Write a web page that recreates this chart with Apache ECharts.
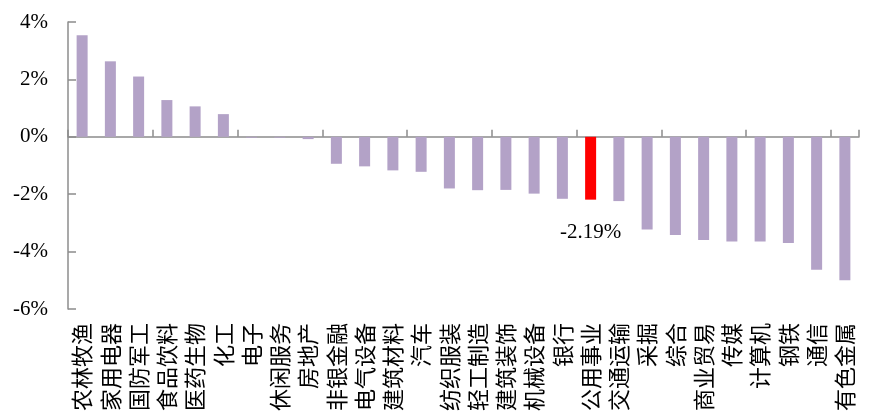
<!DOCTYPE html>
<html>
<head>
<meta charset="utf-8">
<script src="https://cdn.jsdelivr.net/npm/echarts@6/dist/echarts.min.js"></script>
<style>
  html, body { margin: 0; padding: 0; background: #fff; }
  #chart { width: 872px; height: 417px; }
</style>
</head>
<body>
<div id="chart"></div>
<script>
// 申万一级行业涨跌幅（%）
const industries = ['农林牧渔','家用电器','国防军工','食品饮料','医药生物','化工','电子','休闲服务','房地产','非银金融','电气设备','建筑材料','汽车','纺织服装','轻工制造','建筑装饰','机械设备','银行','公用事业','交通运输','采掘','综合','商业贸易','传媒','计算机','钢铁','通信','有色金属'];
const changes = [3.54, 2.63, 2.10, 1.28, 1.06, 0.79, -0.03, -0.03, -0.08, -0.94, -1.03, -1.17, -1.22, -1.80, -1.86, -1.85, -1.98, -2.16, -2.19, -2.24, -3.23, -3.42, -3.60, -3.65, -3.65, -3.70, -4.63, -5.00];
const highlighted = '公用事业';
const yTicks = { min: -6, max: 4, step: 2 };

const purple = '#b3a2c7';
const red = '#ff0000';
const axisGray = '#8c8c8c';
const numFont = '"Liberation Serif", "Times New Roman", serif';
const cjkFont = '"Noto Sans CJK SC", sans-serif';

const barData = changes.map((v, i) => {
  if (industries[i] === highlighted) {
    return {
      value: v,
      itemStyle: { color: red },
      label: {
        show: true,
        position: 'bottom',
        distance: 22,
        formatter: p => p.value.toFixed(2) + '%',
        fontFamily: numFont,
        fontSize: 21,
        color: '#000'
      }
    };
  }
  return v;
});

const chart = echarts.init(document.getElementById('chart'), null, { renderer: 'canvas' });
chart.setOption({
  animation: false,
  backgroundColor: '#fff',
  grid: { left: 68, right: 13, top: 22, bottom: 108, containLabel: false },
  xAxis: [
    {
      type: 'category',
      data: industries,
      position: 'bottom',
      axisLine: { onZero: true, lineStyle: { color: axisGray, width: 1.5 } },
      axisTick: { show: true, inside: true, length: 7, lineStyle: { color: axisGray, width: 1.5 } },
      axisLabel: { show: false },
      splitLine: { show: false }
    },
    {
      type: 'category',
      data: industries,
      position: 'bottom',
      axisLine: { show: false, onZero: false },
      axisTick: { show: false },
      axisLabel: {
        show: true,
        interval: 0,
        rotate: 90,
        margin: 14,
        fontFamily: cjkFont,
        fontSize: 22,
        color: '#000'
      },
      splitLine: { show: false }
    }
  ],
  yAxis: {
    type: 'value',
    min: yTicks.min,
    max: yTicks.max,
    interval: yTicks.step,
    axisLine: { show: true, lineStyle: { color: axisGray, width: 1.5 } },
    axisTick: { show: true, inside: true, length: 8, lineStyle: { color: axisGray, width: 1.5 } },
    axisLabel: {
      formatter: '{value}%',
      margin: 20,
      fontFamily: numFont,
      fontSize: 21,
      color: '#000'
    },
    splitLine: { show: false }
  },
  series: [
    {
      type: 'bar',
      xAxisIndex: 0,
      data: barData,
      barWidth: 11,
      itemStyle: { color: purple }
    }
  ]
});
</script>
</body>
</html>
